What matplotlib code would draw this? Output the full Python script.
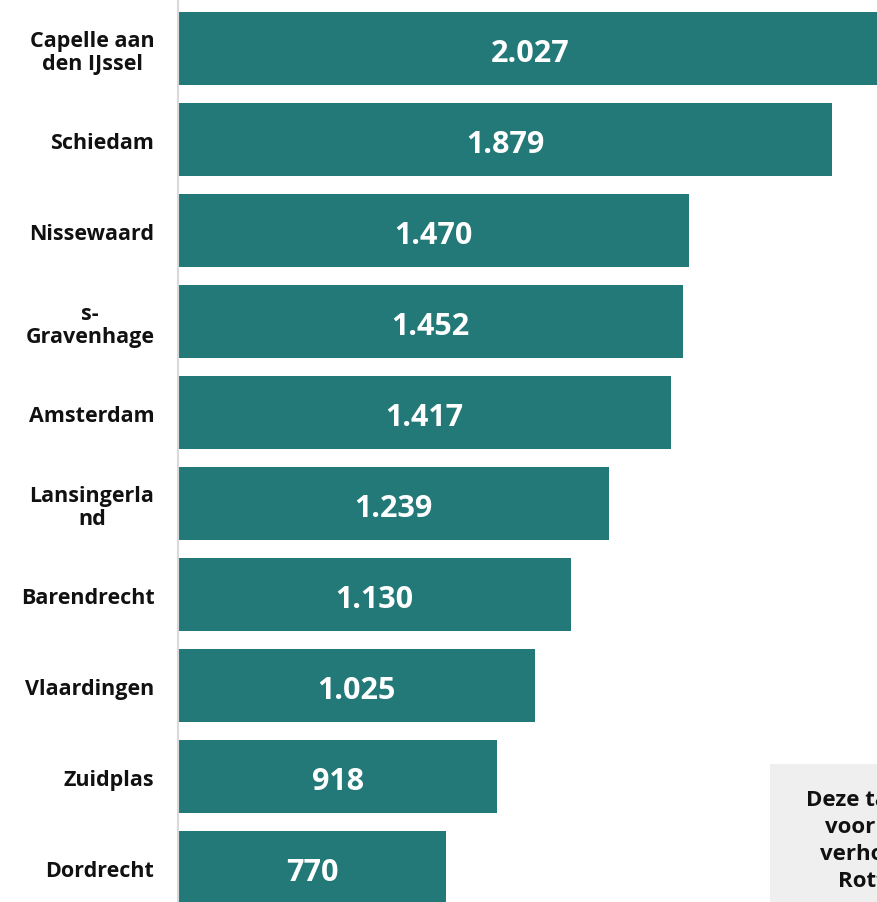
import matplotlib.pyplot as plt
from matplotlib.patches import Rectangle

gemeenten = ["Capelle aan\nden IJssel", "Schiedam", "Nissewaard", "s-\nGravenhage",
             "Amsterdam", "Lansingerla\nnd", "Barendrecht", "Vlaardingen",
             "Zuidplas", "Dordrecht"]
waarden = [2027, 1879, 1470, 1452, 1417, 1239, 1130, 1025, 918, 770]
labels = ["2.027", "1.879", "1.470", "1.452", "1.417", "1.239", "1.130", "1.025", "918", "770"]

kleur = "#237878"

fig = plt.figure(figsize=(8.77, 9.03), dpi=100)
ax = fig.add_axes([178 / 877, 0, 1 - 178 / 877, 1])

pos = list(range(len(waarden)))
ax.barh(pos, waarden, height=0.8, color=kleur)
ax.set_xlim(0, 2009)
ax.set_ylim(9 + 0.379, -0.544)

for p, w, l in zip(pos, waarden, labels):
    ax.text(w / 2, p + 0.05, l, ha="center", va="center", color="white",
            fontsize=22, fontweight="bold", family="Open Sans")

ax.set_yticks(pos)
ax.set_yticklabels(gemeenten, fontsize=15.5, fontweight="bold", family="Open Sans",
                   multialignment="center", color="#111111", linespacing=1.15)
ax.tick_params(axis="y", length=0, pad=17)
ax.set_xticks([])
for s in ["top", "right", "bottom"]:
    ax.spines[s].set_visible(False)
ax.spines["left"].set_color("#d9d9d9")
ax.spines["left"].set_linewidth(1.5)

# grijs kader rechtsonder (afgesneden, zoals in het origineel)
fig.patches.append(Rectangle((770 / 877, 0), 0.3, 138 / 903, transform=fig.transFigure,
                             facecolor="#efefef", edgecolor="none", zorder=5))
fig.text(898 / 877, 62 / 903, "Deze tabel toont\nvoor de regio\nverhoudingen\nRotterdam",
         ha="center", va="center", fontsize=16, fontweight="bold", family="Open Sans",
         color="#111111", linespacing=1.36, zorder=6)

fig.savefig("out.png", dpi=100)
